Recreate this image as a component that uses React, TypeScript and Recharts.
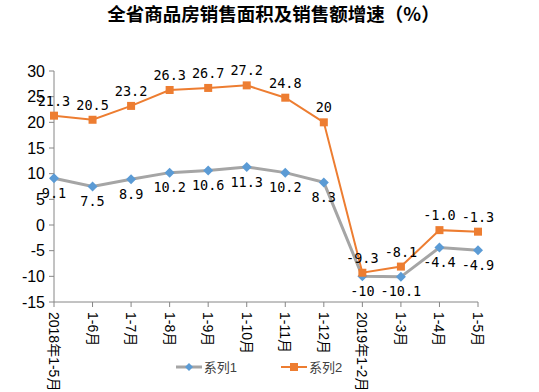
import { LineChart, Line, XAxis, YAxis, Legend, LabelList } from 'recharts';

const categories = ['2018年1-5月', '1-6月', '1-7月', '1-8月', '1-9月', '1-10月', '1-11月', '1-12月', '2019年1-2月', '1-3月', '1-4月', '1-5月'];
const series1 = [9.1, 7.5, 8.9, 10.2, 10.6, 11.3, 10.2, 8.3, -10, -10.1, -4.4, -4.9];
const series2 = [21.3, 20.5, 23.2, 26.3, 26.7, 27.2, 24.8, 20, -9.3, -8.1, -1.0, -1.3];
const labels1 = ['9.1', '7.5', '8.9', '10.2', '10.6', '11.3', '10.2', '8.3', '-10', '-10.1', '-4.4', '-4.9'];
const labels2 = ['21.3', '20.5', '23.2', '26.3', '26.7', '27.2', '24.8', '20', '-9.3', '-8.1', '-1.0', '-1.3'];
const yTicks = [-15, -10, -5, 0, 5, 10, 15, 20, 25, 30];

const data = categories.map((c, i) => ({
  name: c,
  s1: series1[i],
  s2: series2[i],
  l1: labels1[i],
  l2: labels2[i],
}));

const GREY = '#A5A5A5';
const BLUE = '#5B9BD5';
const ORANGE = '#ED7D31';
const AXIS = '#868686';
const FONT = '"Liberation Sans", "Noto Sans CJK SC", sans-serif';
const LABEL_FONT = '"DejaVu Sans Mono", "Noto Sans CJK SC", monospace';

const VerticalTick = (props: any) => {
  const { x, y, payload } = props;
  return (
    <text
      x={0}
      y={0}
      transform={`translate(${x},${y + 3}) rotate(90)`}
      textAnchor="start"
      dominantBaseline="central"
      fontSize={14}
      fontFamily={FONT}
      fill="#000"
    >
      {payload.value}
    </text>
  );
};

const Diamond = (props: any) => {
  const { cx, cy } = props;
  if (cx == null || cy == null) return null;
  const r = 5;
  return <path d={`M${cx},${cy - r}L${cx + r},${cy}L${cx},${cy + r}L${cx - r},${cy}Z`} fill={BLUE} />;
};

const Square = (props: any) => {
  const { cx, cy } = props;
  if (cx == null || cy == null) return null;
  const r = 4;
  return <rect x={cx - r} y={cy - r} width={r * 2} height={r * 2} fill={ORANGE} />;
};

const renderLegend = () => (
  <div
    style={{
      display: 'flex',
      justifyContent: 'center',
      gap: 44,
      fontFamily: FONT,
      fontSize: 13,
      paddingLeft: 40,
      transform: 'translateY(-7px)',
    }}
  >
    <div style={{ display: 'flex', alignItems: 'center' }}>
      <svg width={26} height={10}>
        <line x1={0} y1={5} x2={26} y2={5} stroke={GREY} strokeWidth={3} />
        <path d="M13,1L17,5L13,9L9,5Z" fill={BLUE} />
      </svg>
      <span style={{ marginLeft: 2, color: '#404040' }}>系列1</span>
    </div>
    <div style={{ display: 'flex', alignItems: 'center' }}>
      <svg width={26} height={10}>
        <line x1={0} y1={5} x2={26} y2={5} stroke={ORANGE} strokeWidth={2} />
        <rect x={9} y={1} width={8} height={8} fill={ORANGE} />
      </svg>
      <span style={{ marginLeft: 2, color: '#404040' }}>系列2</span>
    </div>
  </div>
);

export default function App() {
  return (
    <div style={{ position: 'absolute', left: 0, top: 0, width: 539, height: 392, background: '#fff' }}>
      <div
        style={{
          position: 'absolute',
          top: 0,
          left: 0,
          width: 539,
          textAlign: 'center',
          fontFamily: '"Noto Sans CJK SC", sans-serif',
          fontWeight: 'bold',
          fontSize: 18.5,
          color: '#000',
          paddingLeft: 4,
        }}
      >
        全省商品房销售面积及销售额增速（%）
      </div>
      <LineChart width={539} height={392} data={data} margin={{ top: 71, right: 61, left: 0, bottom: 0 }}>
        <XAxis
          dataKey="name"
          interval={0}
          height={62}
          tick={<VerticalTick />}
          tickLine={{ stroke: AXIS }}
          axisLine={{ stroke: AXIS }}
          tickSize={5}
        />
        <YAxis
          domain={[-15, 30]}
          ticks={yTicks}
          width={54}
          tick={{ fontSize: 16, fill: '#000', fontFamily: FONT }}
          tickLine={{ stroke: AXIS }}
          axisLine={{ stroke: AXIS }}
          tickSize={5}
          tickMargin={4}
        />
        <Legend verticalAlign="bottom" height={28} content={renderLegend} />
        <Line
          dataKey="s1"
          stroke={GREY}
          strokeWidth={3}
          dot={<Diamond />}
          activeDot={false}
          isAnimationActive={false}
        >
          <LabelList dataKey="l1" position="bottom" offset={10} fontSize={13.5} fontFamily={LABEL_FONT} fill="#000" />
        </Line>
        <Line
          dataKey="s2"
          stroke={ORANGE}
          strokeWidth={2}
          dot={<Square />}
          activeDot={false}
          isAnimationActive={false}
        >
          <LabelList dataKey="l2" position="top" offset={10} fontSize={13.5} fontFamily={LABEL_FONT} fill="#000" />
        </Line>
      </LineChart>
    </div>
  );
}
